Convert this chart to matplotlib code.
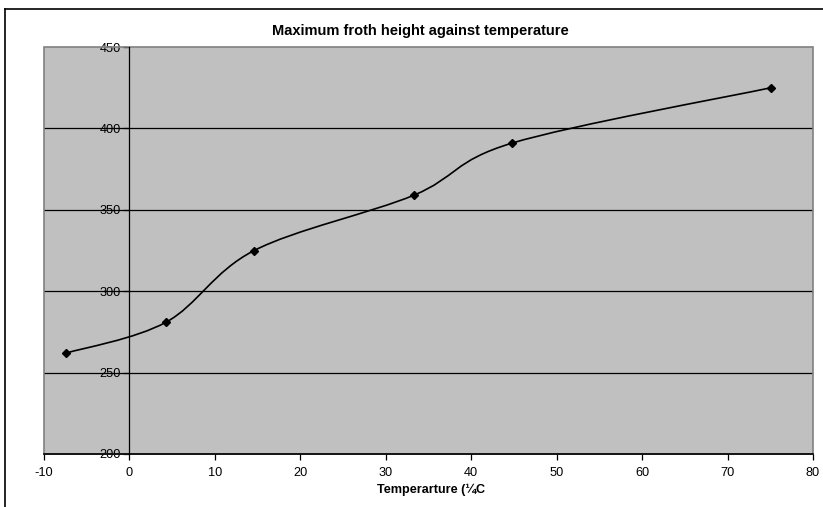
import matplotlib
matplotlib.use("Agg")
import matplotlib.pyplot as plt
from matplotlib.path import Path
from matplotlib.patches import PathPatch, Rectangle
from matplotlib.lines import Line2D
import numpy as np

plt.rcParams['font.family'] = ['Liberation Sans', 'DejaVu Sans']
plt.rcParams['axes.unicode_minus'] = False

# Data
temperature = [-7.4, 4.3, 14.6, 33.3, 44.8, 75.1]
froth_height = [262, 281, 325, 359, 391, 425]
x_ticks = [-10, 0, 10, 20, 30, 40, 50, 60, 70, 80]
y_ticks = [200, 250, 300, 350, 400, 450]
title = "Maximum froth height against temperature"
xlabel = "Temperarture (\u00bcC"

W, H = 823, 507
fig = plt.figure(figsize=(W / 100, H / 100), dpi=100)
fig.patch.set_facecolor('white')

ax = fig.add_axes([44 / W, 1 - 454 / H, (813 - 44) / W, (454 - 47) / H])
ax.set_facecolor('#C0C0C0')
ax.set_xlim(-10, 80)
ax.set_ylim(200, 450)

# gridlines
for yv in y_ticks[1:-1]:
    ax.axhline(yv, color='black', lw=0.9, zorder=1)

# plot-area frame (gray)
ax.add_patch(Rectangle((0, 0), 1, 1, transform=ax.transAxes, fill=False,
                       edgecolor='#808080', lw=1.2, zorder=2, clip_on=False))

# spines
for s in ['top', 'right']:
    ax.spines[s].set_visible(False)
ax.spines['left'].set_position(('data', 0))
ax.spines['left'].set_color('black')
ax.spines['left'].set_linewidth(0.9)
ax.spines['bottom'].set_color('black')
ax.spines['bottom'].set_linewidth(1.2)
ax.spines['left'].set_zorder(3)
ax.spines['bottom'].set_zorder(3)

ax.set_xticks(x_ticks)
ax.set_yticks(y_ticks)
ax.tick_params(axis='x', direction='out', length=4, width=0.9, labelsize=9.2, pad=5)
ax.tick_params(axis='y', direction='out', length=4, width=0.9, labelsize=9.2, pad=2)

# smoothed line (Excel-like Bezier smoothing) from data points
pts = list(zip(temperature, froth_height))
verts = [pts[0]]
codes = [Path.MOVETO]
n = len(pts)
for i in range(n - 1):
    p0 = np.array(pts[i - 1] if i > 0 else pts[i])
    p1 = np.array(pts[i])
    p2 = np.array(pts[i + 1])
    p3 = np.array(pts[i + 2] if i + 2 < n else pts[i + 1])
    c1 = p1 + (p2 - p0) / 6.0
    c2 = p2 - (p3 - p1) / 6.0
    verts += [tuple(c1), tuple(c2), tuple(p2)]
    codes += [Path.CURVE4, Path.CURVE4, Path.CURVE4]
ax.add_patch(PathPatch(Path(verts, codes), facecolor='none', edgecolor='black',
                       lw=1.2, zorder=4))
ax.plot(temperature, froth_height, linestyle='none', marker='D', markersize=4,
        color='black', zorder=5)

fig.text(420 / W, 1 - 31 / H, title, ha='center', va='center',
         fontsize=10.5, fontweight='bold')
fig.text(431 / W, 1 - 490 / H, xlabel, ha='center', va='center',
         fontsize=9.1, fontweight='bold')

# outer chart border (left and top visible)
fig.add_artist(Line2D([5 / W, 5 / W], [0, 1 - 9 / H], color='black', lw=1.2,
                      transform=fig.transFigure))
fig.add_artist(Line2D([5 / W, 1], [1 - 9 / H, 1 - 9 / H], color='black', lw=1.2,
                      transform=fig.transFigure))

fig.savefig('out.png', dpi=100)
